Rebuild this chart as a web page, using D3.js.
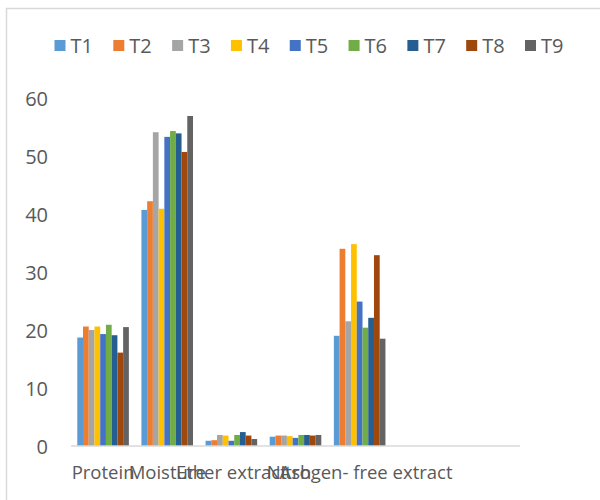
<!DOCTYPE html>
<html>
<head>
<meta charset="utf-8">
<script src="https://cdn.jsdelivr.net/npm/d3@7"></script>
<style>
  html, body { margin: 0; padding: 0; background: #fff; }
  svg { display: block; }
</style>
</head>
<body>
<div id="chart"></div>
<script>
// Composition of the nine treatments (%)
const categories = ["Protein", "Moisture", "Ether extract", "Ash", "Nitrogen- free extract", "", " "];
const seriesNames = ["T1", "T2", "T3", "T4", "T5", "T6", "T7", "T8", "T9"];
const protein   = [18.7, 20.6, 20.0, 20.6, 19.3, 20.9, 19.1, 16.1, 20.5];
const moisture  = [40.7, 42.2, 54.1, 40.9, 53.3, 54.3, 53.9, 50.7, 56.9];
const ether     = [0.9, 1.0, 1.9, 1.8, 0.9, 1.9, 2.4, 1.8, 1.2];
const ash       = [1.6, 1.8, 1.8, 1.7, 1.4, 1.9, 1.9, 1.8, 1.9];
const nfe       = [19.0, 34.0, 21.5, 34.8, 24.9, 20.4, 22.1, 32.9, 18.5];
const yTicks    = [0, 10, 20, 30, 40, 50, 60];
const colors    = ["#5B9BD5", "#ED7D31", "#A5A5A5", "#FFC000", "#4472C4", "#70AD47", "#255E91", "#9E480E", "#636363"];

const groups = [protein, moisture, ether, ash, nfe];

const W = 600, H = 500;
const svg = d3.select("#chart").append("svg").attr("width", W).attr("height", H);
const font = "'Open Sans', sans-serif";
const textColor = "#595959";

// chart frame
svg.append("rect")
  .attr("x", 6.5).attr("y", 8.5)
  .attr("width", W + 20).attr("height", H + 20)
  .attr("fill", "none").attr("stroke", "#d9d9d9").attr("stroke-width", 1.5);

const x = d3.scaleBand().domain(categories).range([71, 520]).paddingInner(0).paddingOuter(0);
const y = d3.scaleLinear().domain([0, 60]).range([446, 98]);

// bars sit side by side, with a 219% gap between groups
const gapRatio = 2.19;
const barW = x.bandwidth() / (seriesNames.length + gapRatio);
const xs = d3.scaleBand().domain(seriesNames)
  .range([barW * gapRatio / 2, barW * gapRatio / 2 + barW * seriesNames.length])
  .padding(0);

const rows = [];
groups.forEach((vals, gi) => {
  vals.forEach((v, si) => rows.push({ cat: categories[gi], s: seriesNames[si], v, c: colors[si] }));
});

svg.append("g").selectAll("rect").data(rows).join("rect")
  .attr("x", d => x(d.cat) + xs(d.s))
  .attr("width", xs.bandwidth())
  .attr("y", d => y(d.v))
  .attr("height", d => y(0) - y(d.v))
  .attr("fill", d => d.c);

// y axis labels only (no axis line, no ticks)
const yAxis = d3.axisLeft(y).tickValues(yTicks).tickSize(0).tickPadding(0);
const gy = svg.append("g").attr("transform", "translate(48,0)").call(yAxis);
gy.select(".domain").remove();
gy.selectAll("text").attr("font-family", font).attr("font-size", 20).attr("fill", textColor)
  .attr("dy", "0.35em");

// x axis
const xAxis = d3.axisBottom(x).tickSize(0).tickPadding(0);
const gx = svg.append("g").attr("transform", `translate(0,${y(0)})`).call(xAxis);
gx.select(".domain").attr("stroke", "#d9d9d9").attr("stroke-width", 1.5)
  .attr("d", `M${x.range()[0]},0H${x.range()[1]}`);
gx.selectAll("text").attr("font-family", font).attr("font-size", 18.5).attr("fill", textColor)
  .attr("dy", "0").attr("y", 33);

// legend
const legend = svg.append("g");
const legX = d3.scalePoint().domain(seriesNames).range([54.5, 525]);
const item = legend.selectAll("g").data(seriesNames).join("g")
  .attr("transform", d => `translate(${legX(d)},0)`);
item.append("rect").attr("x", 0).attr("y", 40).attr("width", 11).attr("height", 11)
  .attr("fill", (d, i) => colors[i]);
item.append("text").attr("x", 16).attr("y", 53)
  .attr("font-family", font).attr("font-size", 20).attr("fill", textColor)
  .text(d => d);
</script>
</body>
</html>
